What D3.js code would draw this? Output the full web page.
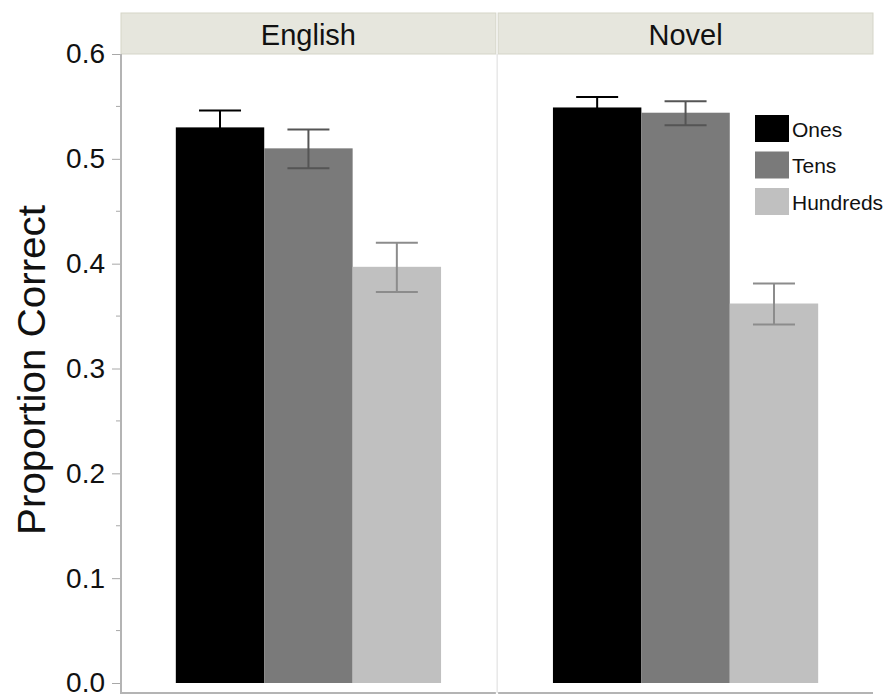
<!doctype html>
<html lang="en">
<head>
  <meta charset="utf-8">
  <title>Proportion Correct</title>
  <script type="text/javascript" src="https://cdnjs.cloudflare.com/ajax/libs/d3/7.8.5/d3.min.js"></script>
  <style>
    body { margin: 0; background: #fff; }
    text { font-family: "Liberation Sans", Arial, Helvetica, sans-serif; fill: #111; }
  </style>
</head>
<body>
  <svg width="892" height="695" id="svg"></svg>
</body>
<script type="text/javascript">

	var panels = ['English', 'Novel'];
	var series = ['Ones', 'Tens', 'Hundreds'];
	var yTicks = [0, 0.1, 0.2, 0.3, 0.4, 0.5, 0.6];
	var yMinor = [0.05, 0.15, 0.25, 0.35, 0.45, 0.55];

	// mean, lower and upper error bound per panel, in series order
	var englishMean = [0.530, 0.510, 0.397];
	var englishLow  = [0.514, 0.491, 0.373];
	var englishHigh = [0.546, 0.528, 0.420];
	var novelMean   = [0.549, 0.544, 0.362];
	var novelLow    = [0.539, 0.532, 0.342];
	var novelHigh   = [0.559, 0.555, 0.381];

	var barColors = ['#000000', '#7a7a7a', '#c0c0c0'];
	var errColors = ['#000000', '#555555', '#8c8c8c'];

	var rows = [];
	[[englishMean, englishLow, englishHigh], [novelMean, novelLow, novelHigh]].forEach(function(p, i) {
		series.forEach(function(s, j) {
			rows.push({panel: panels[i], series: s, mean: p[0][j], low: p[1][j], high: p[2][j]});
		});
	});

	var svg = d3.select('#svg');

	var y = d3.scaleLinear().domain([0, 0.6]).range([683, 54]);
	var plotTop = 54, plotBottom = 693;

	var px = d3.scaleBand()
					.domain(panels)
					.range([121, 873])
					.paddingInner(0.006);

	var bx = d3.scaleBand()
					.domain(series)
					.range([0, px.bandwidth()])
					.paddingInner(0)
					.paddingOuter(0.62);

	var color = d3.scaleOrdinal().domain(series).range(barColors);
	var errColor = d3.scaleOrdinal().domain(series).range(errColors);

	// strips
	svg.selectAll('.strip')
		.data(panels)
		.enter()
		.append('rect')
		.attr('class', 'strip')
		.attr('x', function(d) { return px(d); })
		.attr('y', 13)
		.attr('width', px.bandwidth())
		.attr('height', plotTop - 13)
		.attr('fill', '#e6e6dd')
		.attr('stroke', '#d5d5c8')
		.attr('stroke-width', 1);

	svg.selectAll('.stripLabel')
		.data(panels)
		.enter()
		.append('text')
		.attr('class', 'stripLabel')
		.attr('x', function(d) { return px(d) + px.bandwidth() / 2; })
		.attr('y', 45)
		.attr('text-anchor', 'middle')
		.attr('font-size', 29)
		.text(function(d) { return d; });

	// panel separator
	svg.append('line')
		.attr('x1', px('Novel') - 1).attr('x2', px('Novel') - 1)
		.attr('y1', plotTop).attr('y2', plotBottom)
		.attr('stroke', '#dcdcdc')
		.attr('stroke-width', 1);

	// bars
	svg.selectAll('.bar')
		.data(rows)
		.enter()
		.append('rect')
		.attr('class', 'bar')
		.attr('x', function(d) { return px(d.panel) + bx(d.series); })
		.attr('y', function(d) { return y(d.mean); })
		.attr('width', bx.bandwidth())
		.attr('height', function(d) { return y(0) - y(d.mean); })
		.attr('fill', function(d) { return color(d.series); });

	// error bars
	var err = svg.selectAll('.err')
		.data(rows)
		.enter()
		.append('g')
		.attr('class', 'err')
		.attr('stroke', function(d) { return errColor(d.series); })
		.attr('stroke-width', 2)
		.attr('transform', function(d) {
			return 'translate(' + (px(d.panel) + bx(d.series) + bx.bandwidth() / 2) + ',0)';
		});

	err.append('line')
		.attr('x1', 0).attr('x2', 0)
		.attr('y1', function(d) { return y(d.low); })
		.attr('y2', function(d) { return y(d.high); });
	err.append('line')
		.attr('x1', -21).attr('x2', 21)
		.attr('y1', function(d) { return y(d.high); })
		.attr('y2', function(d) { return y(d.high); });
	err.append('line')
		.attr('x1', -21).attr('x2', 21)
		.attr('y1', function(d) { return y(d.low); })
		.attr('y2', function(d) { return y(d.low); });

	// y axis
	var yAxis = svg.append('g')
		.attr('transform', 'translate(120,0)')
		.call(d3.axisLeft(y).tickValues(yTicks).tickSize(8).tickPadding(7).tickFormat(d3.format('.1f')));
	yAxis.select('.domain').remove();
	yAxis.selectAll('.tick line').attr('stroke', '#a8a8a8').attr('stroke-width', 1);
	yAxis.selectAll('.tick text')
		.attr('font-size', 28)
		.attr('font-family', '"Liberation Sans", Arial, Helvetica, sans-serif')
		.attr('fill', '#111');

	svg.append('g')
		.attr('transform', 'translate(120,0)')
		.selectAll('line')
		.data(yMinor)
		.enter()
		.append('line')
		.attr('x1', -4).attr('x2', 0)
		.attr('y1', function(d) { return y(d); })
		.attr('y2', function(d) { return y(d); })
		.attr('stroke', '#a8a8a8');

	svg.append('line')
		.attr('x1', 121).attr('x2', 121)
		.attr('y1', plotTop).attr('y2', plotBottom + 1)
		.attr('stroke', '#b4b4b4')
		.attr('stroke-width', 2);

	// bottom axis lines, one per panel
	svg.selectAll('.baseLine')
		.data(panels)
		.enter()
		.append('line')
		.attr('class', 'baseLine')
		.attr('x1', function(d) { return px(d); })
		.attr('x2', function(d) { return px(d) + px.bandwidth(); })
		.attr('y1', plotBottom).attr('y2', plotBottom)
		.attr('stroke', '#b4b4b4')
		.attr('stroke-width', 2);

	svg.append('text')
		.attr('transform', 'translate(45,370) rotate(-90)')
		.attr('text-anchor', 'middle')
		.attr('font-size', 39)
		.attr('textLength', 330)
		.attr('lengthAdjust', 'spacingAndGlyphs')
		.text('Proportion Correct');

	// legend
	var legend = svg.selectAll('.legend')
		.data(series)
		.enter()
		.append('g')
		.attr('class', 'legend')
		.attr('transform', function(d, i) { return 'translate(755,' + (115 + i * 36.5) + ')'; });

	legend.append('rect')
		.attr('width', 34)
		.attr('height', 27)
		.attr('fill', function(d) { return color(d); });

	legend.append('text')
		.attr('x', 37)
		.attr('y', 21.5)
		.attr('font-size', 21)
		.text(function(d) { return d; });

</script>
</html>
